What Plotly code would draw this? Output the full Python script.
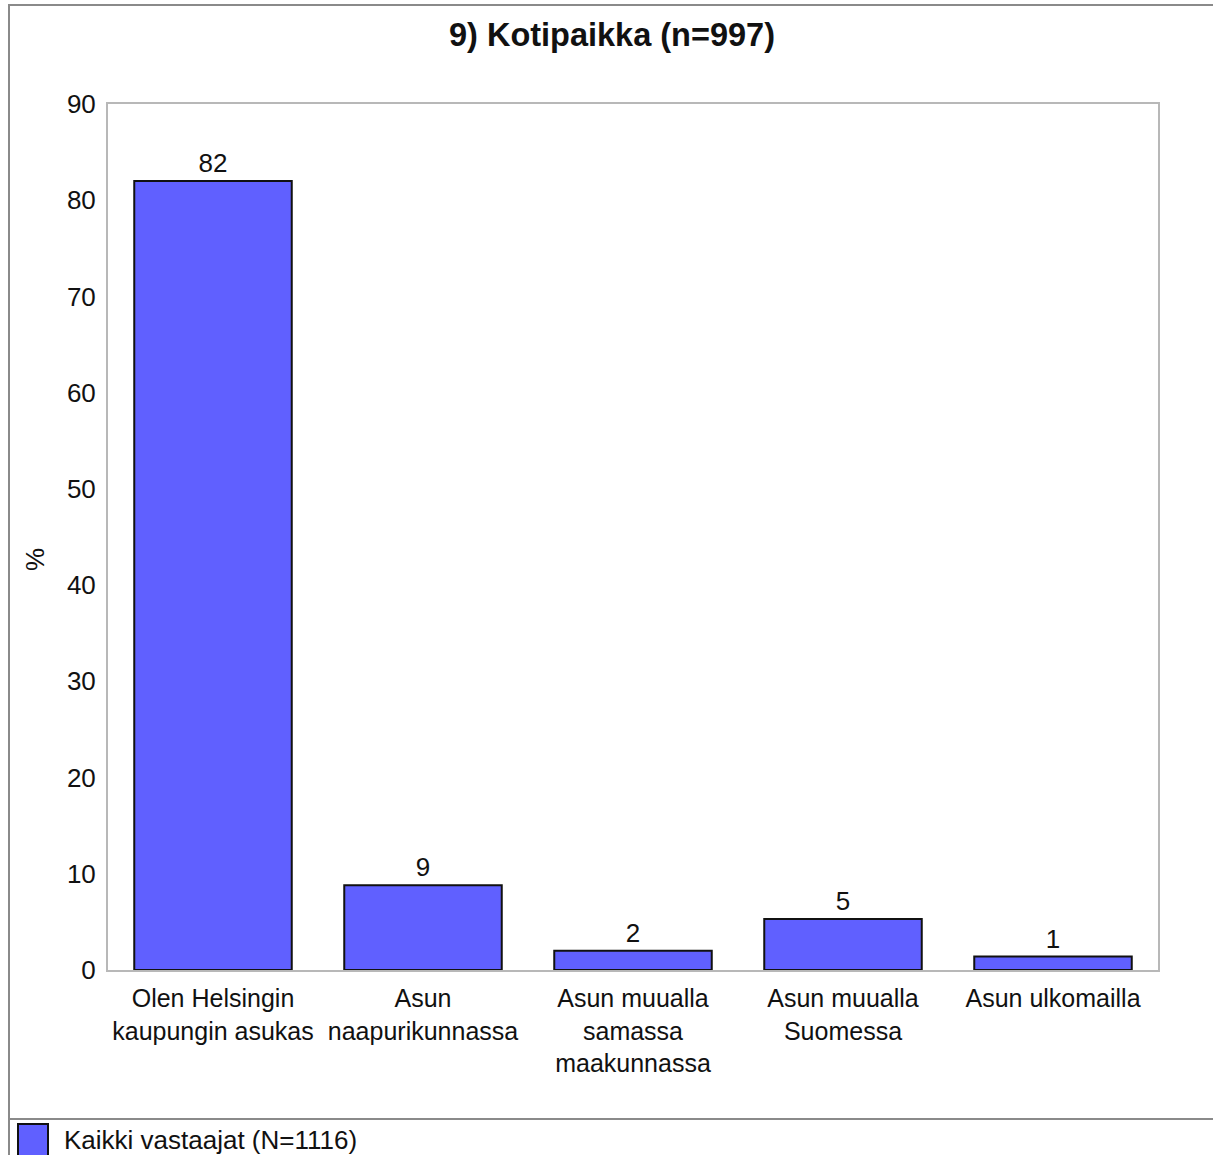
import plotly.graph_objects as go

# Survey question 9: place of residence
categories = [
    "Olen Helsingin<br>kaupungin asukas",
    "Asun<br>naapurikunnassa",
    "Asun muualla<br>samassa<br>maakunnassa",
    "Asun muualla<br>Suomessa",
    "Asun ulkomailla",
]
shares = [82.0, 8.8, 2.0, 5.3, 1.4]
series_name = "Kaikki vastaajat (N=1116)"
chart_title = "9) Kotipaikka (n=997)"
y_title = "%"
y_ticks = [0, 10, 20, 30, 40, 50, 60, 70, 80, 90]

W, H = 1213, 1155
L, R, T, B = 108, 1158, 104, 970  # plot area in pixels

FONT = "Arial, Liberation Sans, sans-serif"
FS = 26
BAR_COLOR = "#6060ff"
FRAME = "#8a8a8a"
INK = "#111111"


def px_x(x):
    return (x - L) / (R - L)


def px_y(y):
    return (B - y) / (B - T)


fig = go.Figure(
    go.Bar(
        x=categories,
        y=shares,
        name=series_name,
        marker=dict(color=BAR_COLOR, line=dict(color=INK, width=2)),
        texttemplate="%{y:.0f}",
        textposition="outside",
        textfont=dict(family=FONT, size=FS, color=INK),
        cliponaxis=False,
        showlegend=False,
    )
)

# outer frame and the separator above the legend strip
fig.add_shape(type="line", xref="paper", yref="paper",
              x0=px_x(9), x1=px_x(9), y0=px_y(4), y1=px_y(H + 5),
              line=dict(color=FRAME, width=2))
fig.add_shape(type="line", xref="paper", yref="paper",
              x0=px_x(8), x1=px_x(W + 5), y0=px_y(5), y1=px_y(5),
              line=dict(color=FRAME, width=2))
fig.add_shape(type="line", xref="paper", yref="paper",
              x0=px_x(8), x1=px_x(W + 5), y0=px_y(1119), y1=px_y(1119),
              line=dict(color=FRAME, width=2))

# legend swatch and label
fig.add_shape(type="rect", xref="paper", yref="paper",
              x0=px_x(18), x1=px_x(48), y0=px_y(1124), y1=px_y(1158),
              fillcolor=BAR_COLOR, line=dict(color=INK, width=2))
fig.add_annotation(xref="paper", yref="paper", x=px_x(62), y=px_y(1140),
                   text=series_name, showarrow=False,
                   xanchor="left", yanchor="middle",
                   font=dict(family=FONT, size=FS, color=INK))

# y-axis title, rotated
fig.add_annotation(xref="paper", yref="paper", x=px_x(35), y=px_y(560),
                   text=y_title, showarrow=False, textangle=-90,
                   xanchor="center", yanchor="middle",
                   font=dict(family=FONT, size=FS, color=INK))

fig.update_layout(
    width=W,
    height=H,
    margin=dict(l=L, r=W - R, t=T, b=H - B, pad=0),
    paper_bgcolor="white",
    plot_bgcolor="white",
    bargap=0.25,
    title=dict(
        text=f"<b>{chart_title}</b>",
        x=612 / W, xref="container", xanchor="center",
        y=1 - 35 / H, yref="container", yanchor="middle",
        font=dict(family=FONT, size=32.5, color=INK),
    ),
    font=dict(family=FONT, size=FS, color=INK),
)

fig.update_xaxes(
    showline=True, linecolor="#b8b8b8", linewidth=2, mirror=True,
    showgrid=False, ticks="", ticklabelstandoff=5,
    tickfont=dict(family=FONT, size=25, color=INK),
)
fig.update_yaxes(
    range=[0, 90], tickvals=y_ticks,
    showline=True, linecolor="#b8b8b8", linewidth=2, mirror=True,
    showgrid=False, zeroline=False, ticks="", ticklabelstandoff=5,
    tickfont=dict(family=FONT, size=FS, color=INK),
)

fig.write_html("out.html")
